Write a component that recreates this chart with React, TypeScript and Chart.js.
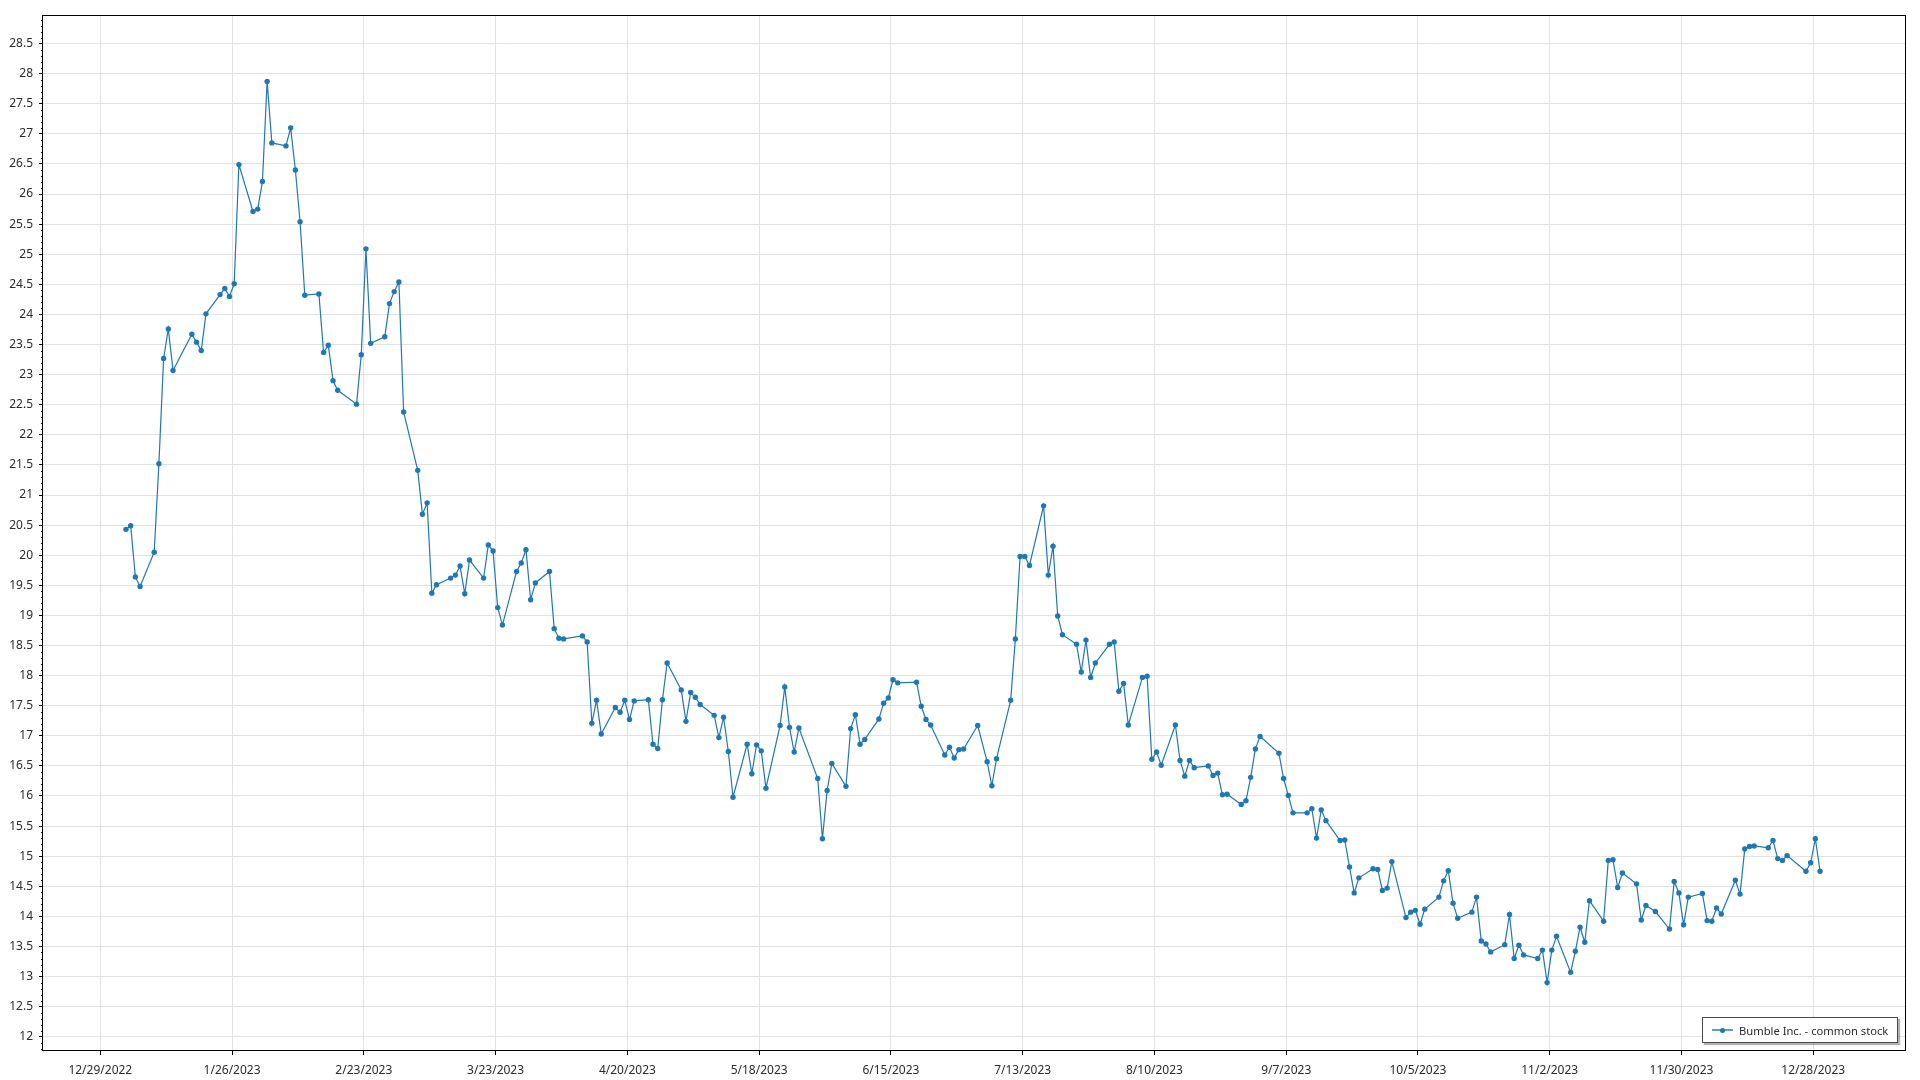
import React, { useEffect, useRef } from "react";
import { Chart, registerables } from "chart.js";

Chart.register(...registerables);

const seriesName = "Bumble Inc. - common stock";

// Trading days (day of month) and closing prices, 2023
const janDays = [3, 4, 5, 6, 9, 10, 11, 12, 13, 17, 18, 19, 20, 23, 24, 25, 26, 27, 30, 31];
const janClose = [20.43, 20.49, 19.64, 19.48, 20.05, 21.52, 23.27, 23.76, 23.07, 23.67, 23.54, 23.4, 24.01, 24.33, 24.43, 24.3, 24.51, 26.49, 25.71, 25.75];

const febDays = [1, 2, 3, 6, 7, 8, 9, 10, 13, 14, 15, 16, 17, 21, 22, 23, 24, 27, 28];
const febClose = [26.21, 27.87, 26.85, 26.8, 27.1, 26.4, 25.54, 24.32, 24.34, 23.37, 23.49, 22.9, 22.74, 22.51, 23.33, 25.09, 23.52, 23.63, 24.18];

const marDays = [1, 2, 3, 6, 7, 8, 9, 10, 13, 14, 15, 16, 17, 20, 21, 22, 23, 24, 27, 28, 29, 30, 31];
const marClose = [24.38, 24.54, 22.38, 21.41, 20.68, 20.87, 19.37, 19.51, 19.62, 19.67, 19.82, 19.36, 19.92, 19.62, 20.17, 20.07, 19.13, 18.84, 19.73, 19.87, 20.09, 19.26, 19.54];

const aprDays = [3, 4, 5, 6, 10, 11, 12, 13, 14, 17, 18, 19, 20, 21, 24, 25, 26, 27, 28];
const aprClose = [19.73, 18.78, 18.62, 18.61, 18.66, 18.56, 17.21, 17.59, 17.03, 17.47, 17.39, 17.59, 17.27, 17.58, 17.6, 16.86, 16.79, 17.6, 18.21];

const mayDays = [1, 2, 3, 4, 5, 8, 9, 10, 11, 12, 15, 16, 17, 18, 19, 22, 23, 24, 25, 26, 30, 31];
const mayClose = [17.76, 17.24, 17.72, 17.64, 17.52, 17.34, 16.97, 17.31, 16.74, 15.98, 16.86, 16.37, 16.85, 16.75, 16.13, 17.17, 17.81, 17.14, 16.73, 17.13, 16.29, 15.29];

const junDays = [1, 2, 5, 6, 7, 8, 9, 12, 13, 14, 15, 16, 20, 21, 22, 23, 26, 27, 28, 29, 30];
const junClose = [16.09, 16.54, 16.16, 17.12, 17.35, 16.86, 16.94, 17.28, 17.54, 17.63, 17.93, 17.88, 17.89, 17.49, 17.27, 17.18, 16.68, 16.81, 16.63, 16.77, 16.78];

const julDays = [3, 5, 6, 7, 10, 11, 12, 13, 14, 17, 18, 19, 20, 21, 24, 25, 26, 27, 28, 31];
const julClose = [17.17, 16.57, 16.17, 16.62, 17.59, 18.61, 19.98, 19.98, 19.83, 20.82, 19.67, 20.15, 18.99, 18.68, 18.52, 18.06, 18.59, 17.97, 18.21, 18.52];

const augDays = [1, 2, 3, 4, 7, 8, 9, 10, 11, 14, 15, 16, 17, 18, 21, 22, 23, 24, 25, 28, 29, 30, 31];
const augClose = [18.56, 17.74, 17.87, 17.18, 17.97, 17.99, 16.61, 16.73, 16.51, 17.18, 16.59, 16.33, 16.59, 16.47, 16.5, 16.34, 16.38, 16.02, 16.03, 15.86, 15.92, 16.31, 16.78];

const sepDays = [1, 5, 6, 7, 8, 11, 12, 13, 14, 15, 18, 19, 20, 21, 22, 25, 26, 27, 28, 29];
const sepClose = [16.99, 16.71, 16.29, 16.01, 15.72, 15.72, 15.79, 15.3, 15.77, 15.59, 15.26, 15.27, 14.82, 14.39, 14.64, 14.79, 14.78, 14.43, 14.47, 14.91];

const octDays = [2, 3, 4, 5, 6, 9, 10, 11, 12, 13, 16, 17, 18, 19, 20, 23, 24, 25, 26, 27, 30, 31];
const octClose = [13.98, 14.07, 14.1, 13.87, 14.12, 14.32, 14.59, 14.76, 14.22, 13.97, 14.07, 14.32, 13.59, 13.54, 13.41, 13.53, 14.03, 13.3, 13.52, 13.36, 13.3, 13.44];

const novDays = [1, 2, 3, 6, 7, 8, 9, 10, 13, 14, 15, 16, 17, 20, 21, 22, 24, 27, 28, 29, 30];
const novClose = [12.9, 13.44, 13.67, 13.07, 13.42, 13.82, 13.57, 14.26, 13.92, 14.93, 14.94, 14.48, 14.72, 14.54, 13.94, 14.18, 14.08, 13.79, 14.58, 14.39, 13.86];

const decDays = [1, 4, 5, 6, 7, 8, 11, 12, 13, 14, 15, 18, 19, 20, 21, 22, 26, 27, 28, 29];
const decClose = [14.32, 14.38, 13.93, 13.92, 14.14, 14.04, 14.6, 14.37, 15.12, 15.16, 15.17, 15.14, 15.26, 14.96, 14.93, 15.01, 14.75, 14.89, 15.29, 14.75];

const xTickLabels = ["12/29/2022", "1/26/2023", "2/23/2023", "3/23/2023", "4/20/2023", "5/18/2023", "6/15/2023", "7/13/2023", "8/10/2023", "9/7/2023", "10/5/2023", "11/2/2023", "11/30/2023", "12/28/2023"];
const yTicks = [12, 12.5, 13, 13.5, 14, 14.5, 15, 15.5, 16, 16.5, 17, 17.5, 18, 18.5, 19, 19.5, 20, 20.5, 21, 21.5, 22, 22.5, 23, 23.5, 24, 24.5, 25, 25.5, 26, 26.5, 27, 27.5, 28, 28.5];

const DAY_MS = 86400000;
const BASE = Date.UTC(2022, 11, 29);
const SAMPLE_TIME = 0.45; // time of day of each quote (fraction of a day)

const monthDays = [janDays, febDays, marDays, aprDays, mayDays, junDays, julDays, augDays, sepDays, octDays, novDays, decDays];
const monthClose = [janClose, febClose, marClose, aprClose, mayClose, junClose, julClose, augClose, sepClose, octClose, novClose, decClose];

function parseDay(s: string): number {
  const [m, d, y] = s.split("/").map(Number);
  return (Date.UTC(y, m - 1, d) - BASE) / DAY_MS;
}

const FONT = { family: "'Noto Sans', 'Open Sans', sans-serif", size: 12 };
const TEXT_COLOR = "#2b2b2b";
const GRID_COLOR = "#e2e2e2";

export default function App() {
  const ref = useRef<HTMLCanvasElement | null>(null);

  useEffect(() => {
    if (!ref.current) return;
    const points: { x: number; y: number }[] = [];
    monthDays.forEach((days, m) => {
      days.forEach((d, i) => {
        points.push({ x: (Date.UTC(2023, m, d) - BASE) / DAY_MS + SAMPLE_TIME, y: monthClose[m][i] });
      });
    });
    const xTickValues = xTickLabels.map(parseDay);

    const framePlugin = {
      id: "frame",
      afterDraw(chart: any) {
        const { ctx, chartArea } = chart;
        const ys = chart.scales.y;
        ctx.save();
        ctx.strokeStyle = "#000";
        ctx.lineWidth = 1;
        ctx.beginPath();
        for (let k = Math.ceil(ys.min * 10); k <= Math.floor(ys.max * 10); k++) {
          if (k % 5 === 0) continue;
          const py = Math.round(ys.getPixelForValue(k / 10)) + 0.5;
          ctx.moveTo(chartArea.left - 2, py);
          ctx.lineTo(chartArea.left, py);
        }
        ctx.stroke();
        ctx.strokeRect(
          Math.round(chartArea.left) - 0.5,
          Math.round(chartArea.top) + 0.5,
          Math.round(chartArea.right) - Math.round(chartArea.left) + 1,
          Math.round(chartArea.bottom) - Math.round(chartArea.top)
        );
        ctx.restore();
      },
    };

    const chart = new Chart(ref.current, {
      type: "line",
      data: {
        datasets: [
          {
            label: seriesName,
            data: points,
            borderColor: "#1f77b4",
            backgroundColor: "#1f77b4",
            borderWidth: 1.2,
            pointRadius: 2.7,
            pointBorderWidth: 0,
            pointHoverRadius: 2.7,
            tension: 0,
          },
        ],
      },
      options: {
        animation: false,
        responsive: false,
        events: [],
        layout: { padding: { top: 15, right: 15, left: 0, bottom: 0 } },
        plugins: { legend: { display: false }, tooltip: { enabled: false } },
        scales: {
          x: {
            type: "linear",
            min: -12.18,
            max: 383.5,
            afterBuildTicks: (s: any) => {
              s.ticks = xTickValues.map((v) => ({ value: v }));
            },
            afterFit: (s: any) => {
              s.height = 30;
            },
            grid: { color: GRID_COLOR, tickColor: "#000", tickLength: 5, lineWidth: 1 },
            border: { display: false },
            ticks: {
              font: FONT,
              color: TEXT_COLOR,
              padding: 8,
              maxRotation: 0,
              autoSkip: false,
              callback: (_v: any, i: number) => xTickLabels[i],
            },
          },
          y: {
            type: "linear",
            min: 11.78,
            max: 28.975,
            afterBuildTicks: (s: any) => {
              s.ticks = yTicks.map((v) => ({ value: v }));
            },
            afterFit: (s: any) => {
              s.width = 43;
            },
            grid: { color: GRID_COLOR, tickColor: "#000", tickLength: 4, lineWidth: 1 },
            border: { display: false },
            ticks: {
              font: FONT,
              color: TEXT_COLOR,
              padding: 6,
              autoSkip: false,
              callback: (v: any) => String(v),
            },
          },
        },
      },
      plugins: [framePlugin],
    } as any);
    return () => chart.destroy();
  }, []);

  return (
    <div style={{ position: "fixed", left: 0, top: 0, width: 1920, height: 1080, background: "#fff" }}>
      <canvas ref={ref} width={1920} height={1080} style={{ position: "absolute", left: 0, top: 0 }} />
      <div
        style={{
          position: "absolute",
          left: 1702,
          top: 1017,
          width: 196,
          height: 26,
          boxSizing: "border-box",
          border: "1px solid #4a4a4a",
          background: "#fff",
          boxShadow: "2px 2px 1px rgba(0,0,0,0.3)",
          display: "flex",
          alignItems: "center",
          fontFamily: "'Noto Sans', 'Open Sans', sans-serif",
          fontSize: 11.2,
          color: TEXT_COLOR,
          whiteSpace: "nowrap",
        }}
      >
        <div style={{ position: "relative", width: 21, height: 10, marginLeft: 9, marginRight: 6 }}>
          <div style={{ position: "absolute", left: 0, right: 0, top: 4, height: 2, background: "#5b9bd5" }} />
          <div style={{ position: "absolute", left: 8, top: 2.5, width: 5, height: 5, borderRadius: "50%", background: "#1f77b4" }} />
        </div>
        <span>{seriesName}</span>
      </div>
    </div>
  );
}
